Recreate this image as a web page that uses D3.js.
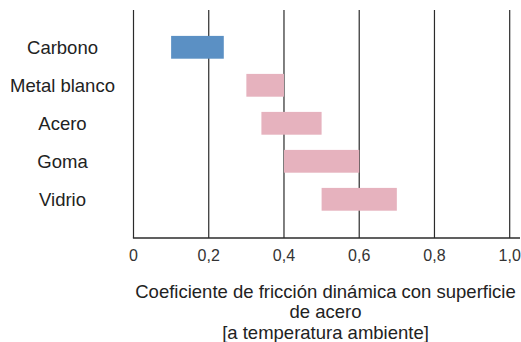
<!DOCTYPE html>
<html>
<head>
<meta charset="utf-8">
<script src="https://cdn.jsdelivr.net/npm/d3@7"></script>
<style>
  body { margin: 0; background: #fff; }
  svg { display: block; }
</style>
</head>
<body>
<svg id="chart"></svg>
<script>
// --- 1. Data ---
const materials = ["Carbono", "Metal blanco", "Acero", "Goma", "Vidrio"];
const lowValues = [0.10, 0.30, 0.34, 0.40, 0.50];
const highValues = [0.24, 0.40, 0.50, 0.60, 0.70];
const barColors = ["#5b90c4", "#e6b2be", "#e6b2be", "#e6b2be", "#e6b2be"];
const tickValues = [0, 0.2, 0.4, 0.6, 0.8, 1.0];
const tickLabels = ["0", "0,2", "0,4", "0,6", "0,8", "1,0"];
const titleLines = [
    "Coeficiente de fricción dinámica con superficie",
    "de acero",
    "[a temperatura ambiente]"
];

const rows = materials.map((m, i) => ({ name: m, lo: lowValues[i], hi: highValues[i], color: barColors[i] }));

// --- 2. SVG setup ---
const width = 521;
const height = 342;
const plotTop = 10;
const plotBottom = 238;

const svg = d3.select("#chart")
    .attr("width", width)
    .attr("height", height);

// --- 3. Scales ---
const x = d3.scaleLinear()
    .domain([0, 1])
    .range([133.5, 509.7]);

const y = d3.scaleBand()
    .domain(materials)
    .range([28.3, 218.3])
    .paddingInner(0.4)
    .paddingOuter(0.2);

// --- 4. Grid lines ---
svg.append("g")
  .selectAll("line")
  .data(tickValues)
  .join("line")
    .attr("x1", d => x(d))
    .attr("x2", d => x(d))
    .attr("y1", plotTop)
    .attr("y2", plotBottom)
    .attr("stroke", "#2b2b2b")
    .attr("stroke-width", 1.2);

// bottom axis line runs out to the right edge
svg.append("line")
    .attr("x1", x(0) - 0.6)
    .attr("x2", 520)
    .attr("y1", plotBottom)
    .attr("y2", plotBottom)
    .attr("stroke", "#2b2b2b")
    .attr("stroke-width", 1.4);

// --- 5. Range bars ---
svg.append("g")
  .selectAll("rect")
  .data(rows)
  .join("rect")
    .attr("x", d => x(d.lo))
    .attr("width", d => x(d.hi) - x(d.lo))
    .attr("y", d => y(d.name))
    .attr("height", y.bandwidth())
    .attr("fill", d => d.color);

// --- 6. Labels ---
svg.append("g")
  .selectAll("text")
  .data(materials)
  .join("text")
    .attr("x", 62.5)
    .attr("y", d => y(d) + y.bandwidth() / 2)
    .attr("dy", "0.35em")
    .attr("text-anchor", "middle")
    .attr("font-family", "'Liberation Sans', Arial, sans-serif")
    .attr("font-size", 18.5)
    .attr("fill", "#222")
    .text(d => d);

svg.append("g")
  .selectAll("text")
  .data(tickValues)
  .join("text")
    .attr("x", d => x(d))
    .attr("y", 261)
    .attr("text-anchor", "middle")
    .attr("font-family", "'Liberation Sans Narrow', 'Arial Narrow', sans-serif")
    .attr("font-stretch", "condensed")
    .attr("font-size", 16)
    .attr("fill", "#333")
    .text((d, i) => tickLabels[i]);

svg.append("g")
  .selectAll("text")
  .data(titleLines)
  .join("text")
    .attr("x", 325.5)
    .attr("y", (d, i) => 297.5 + i * 20.7)
    .attr("text-anchor", "middle")
    .attr("font-family", "'Liberation Sans', Arial, sans-serif")
    .attr("font-size", 18.5)
    .attr("fill", "#222")
    .text(d => d);
</script>
</body>
</html>
